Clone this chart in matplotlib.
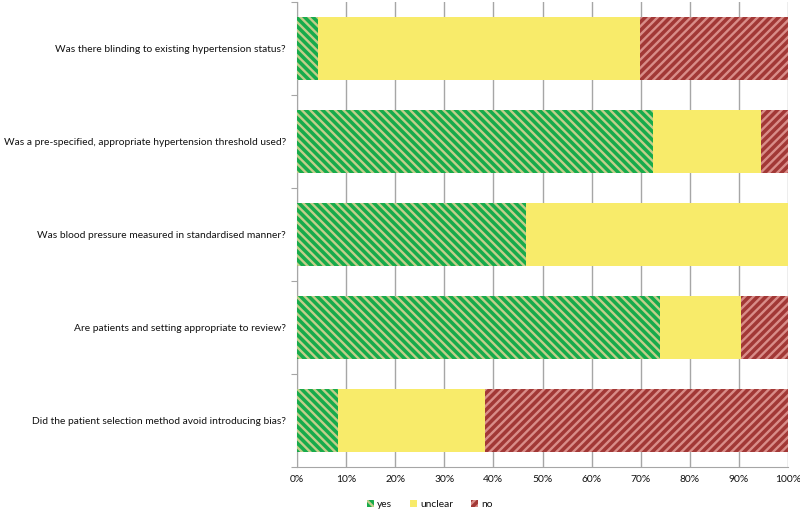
import matplotlib.pyplot as plt
import matplotlib.ticker as ticker
from matplotlib.patches import Patch

plt.rcParams['font.family'] = ['Lato', 'DejaVu Sans']
plt.rcParams['hatch.linewidth'] = 1.7

# 질문 (위에서 아래 순서)
questions = [
    'Was there blinding to existing hypertension status?',
    'Was a pre-specified, appropriate hypertension threshold used?',
    'Was blood pressure measured in standardised manner?',
    'Are patients and setting appropriate to review?',
    'Did the patient selection method avoid introducing bias?',
]
yes = [4.3, 72.5, 46.6, 73.9, 8.4]
unclear = [65.6, 22.0, 53.4, 16.5, 29.9]
no = [30.1, 5.5, 0.0, 9.6, 61.7]
xticks = [0, 10, 20, 30, 40, 50, 60, 70, 80, 90, 100]

green, green_h = '#17AB4B', '#C3CE8A'
yellow = '#F8EB6A'
red, red_h = '#A23836', '#D98D89'
fs = 7.4
tc = '#111111'
hatch_g = '\\\\\\\\'
hatch_r = '////'

fig = plt.figure(figsize=(8, 5.11), dpi=100)
ax = fig.add_axes([0.37125, 0.0861, 0.61375, 0.91])

pos = list(range(len(questions)))
h = 0.67
left2 = [a + b for a, b in zip(yes, unclear)]
ax.barh(pos, yes, height=h, color=green, edgecolor=green_h, hatch=hatch_g, linewidth=0, zorder=3)
ax.barh(pos, unclear, left=yes, height=h, color=yellow, linewidth=0, zorder=3)
ax.barh(pos, no, left=left2, height=h, color=red, edgecolor=red_h, hatch=hatch_r, linewidth=0, zorder=3)

ax.set_xlim(0, 100)
ax.set_ylim(len(questions) - 0.5, -0.5)
ax.xaxis.set_major_locator(ticker.FixedLocator(xticks))
ax.xaxis.set_major_formatter(ticker.FuncFormatter(lambda x, p: '%d%%' % x))
ax.grid(axis='x', color='#A6A6A6', linewidth=1, zorder=0)

# y축: 경계에 눈금, 가운데에 라벨
ax.yaxis.set_major_locator(ticker.FixedLocator([i - 0.5 for i in range(len(questions) + 1)]))
ax.yaxis.set_major_formatter(ticker.NullFormatter())
ax.yaxis.set_minor_locator(ticker.FixedLocator(pos))
ax.yaxis.set_minor_formatter(ticker.FixedFormatter(questions))
ax.tick_params(axis='y', which='major', length=4, color='#A6A6A6')
ax.tick_params(axis='y', which='minor', length=0, pad=8, labelsize=fs, labelcolor=tc)
ax.tick_params(axis='x', length=0, labelsize=fs, labelcolor=tc, pad=6)

for s in ['top', 'right']:
    ax.spines[s].set_visible(False)
for s in ['left', 'bottom']:
    ax.spines[s].set_color('#A6A6A6')

handles = [
    Patch(facecolor=green, edgecolor=green_h, hatch=hatch_g, linewidth=0, label='yes'),
    Patch(facecolor=yellow, linewidth=0, label='unclear'),
    Patch(facecolor=red, edgecolor=red_h, hatch=hatch_r, linewidth=0, label='no'),
]
fig.legend(handles=handles, loc='center', bbox_to_anchor=(0.537, 0.012), ncol=3, frameon=False,
           fontsize=fs, handlelength=0.7, handleheight=0.7, handletextpad=0.3, columnspacing=1.7,
           labelcolor=tc)

fig.savefig('out.png', dpi=100)
